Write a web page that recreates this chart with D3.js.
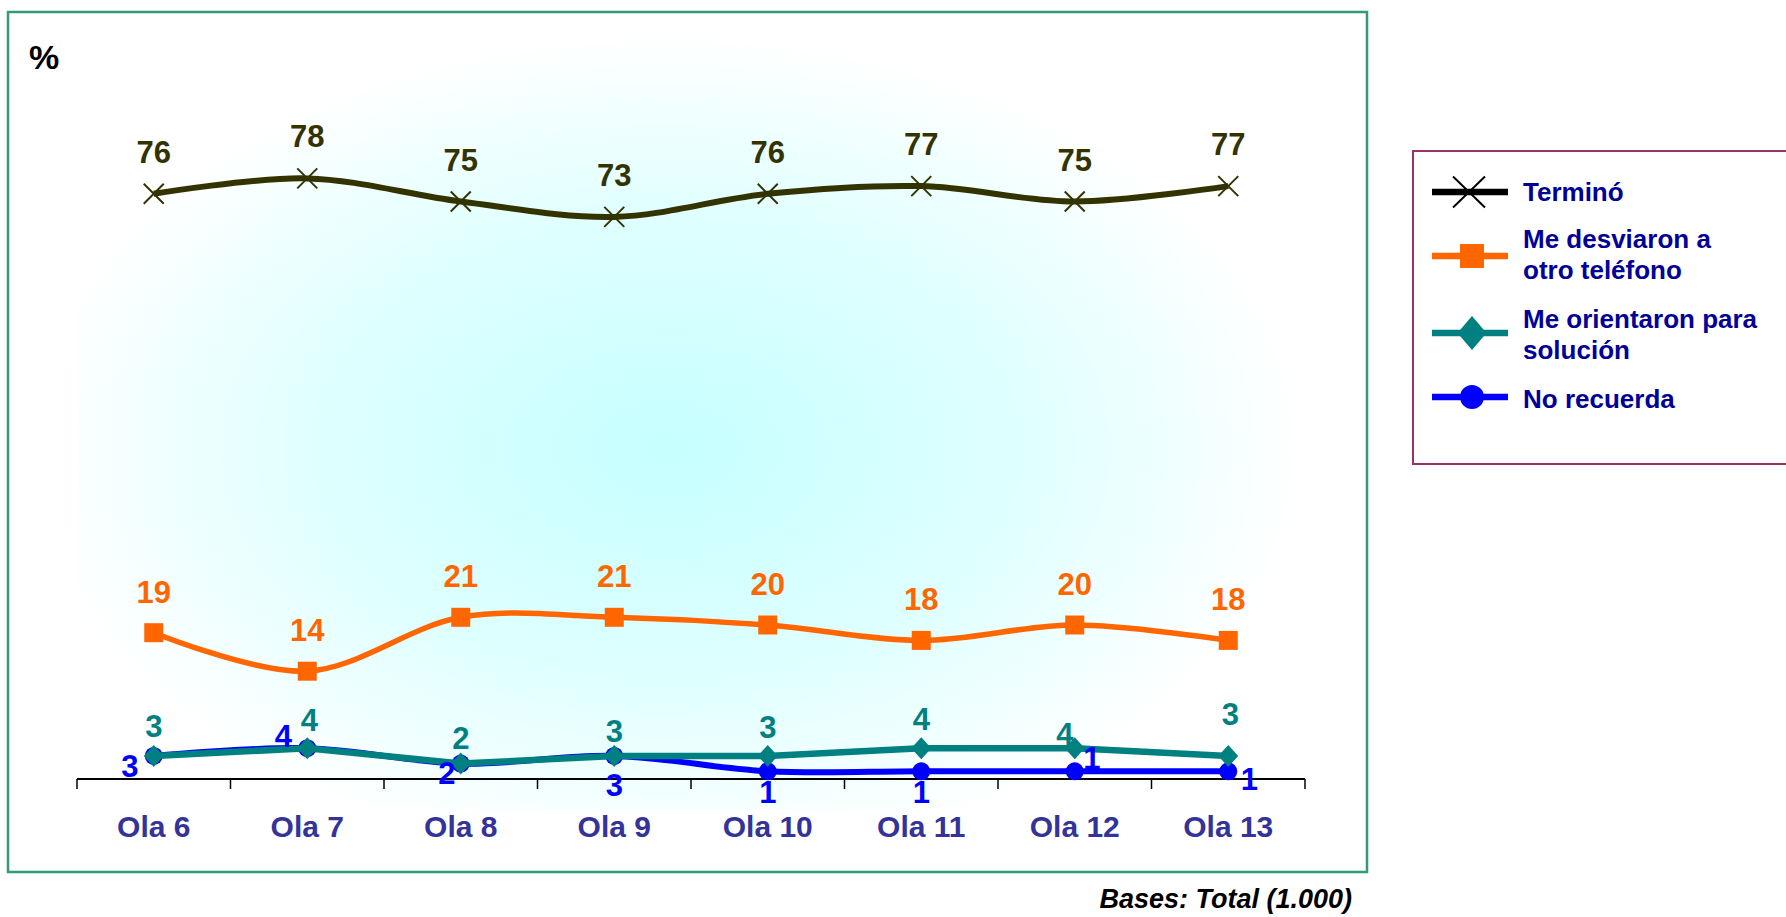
<!DOCTYPE html>
<html>
<head>
<meta charset="utf-8">
<script src="https://cdnjs.cloudflare.com/ajax/libs/d3/7.8.5/d3.min.js"></script>
<style>
    body { margin: 0; background: #fff; }
    text { font-family: "Liberation Sans", Arial, sans-serif; font-weight: bold; }
</style>
</head>
<body>
<div id="chart"></div>
<script>
// Data
let categories = ["Ola 6", "Ola 7", "Ola 8", "Ola 9", "Ola 10", "Ola 11", "Ola 12", "Ola 13"];
let termino = [76, 78, 75, 73, 76, 77, 75, 77];
let desviaron = [19, 14, 21, 21, 20, 18, 20, 18];
let orientaron = [3, 4, 2, 3, 3, 4, 4, 3];
let noRecuerda = [3, 4, 2, 3, 1, 1, 1, 1];
let legendLabels = [["Terminó"], ["Me desviaron a", "otro teléfono"], ["Me orientaron para", "solución"], ["No recuerda"]];

function drawChart() {
    let width = 1786, height = 917;

    let svg = d3.select("#chart")
        .append("svg")
        .attr("width", width)
        .attr("height", height);

    // background gradient
    let defs = svg.append("defs");
    let grad = defs.append("radialGradient")
        .attr("id", "bg")
        .attr("cx", "48%").attr("cy", "55%").attr("r", "52%");
    grad.append("stop").attr("offset", "0%").attr("stop-color", "#c6ffff");
    grad.append("stop").attr("offset", "55%").attr("stop-color", "#dfffff");
    grad.append("stop").attr("offset", "100%").attr("stop-color", "#ffffff");

    svg.append("rect")
        .attr("x", 77).attr("y", 9)
        .attr("width", 1228).attr("height", 800)
        .attr("fill", "url(#bg)");

    // outer frame
    svg.append("rect")
        .attr("x", 8).attr("y", 12)
        .attr("width", 1359).attr("height", 860)
        .attr("fill", "none")
        .attr("stroke", "#339977")
        .attr("stroke-width", 2.5);

    let x = d3.scaleBand()
        .domain(categories)
        .range([77, 1305]);

    let y = d3.scaleLinear()
        .domain([0, 100])
        .range([779, 9]);

    let cx = function (i) { return x(categories[i]) + x.bandwidth() / 2; };

    // x axis line and boundary ticks
    let axis = svg.append("g");
    axis.append("line")
        .attr("x1", x.range()[0]).attr("x2", x.range()[1])
        .attr("y1", y(0)).attr("y2", y(0))
        .attr("stroke", "#000").attr("stroke-width", 2);

    let edges = categories.map(function (c) { return x(c); });
    edges.push(x.range()[1]);
    axis.selectAll(".tick")
        .data(edges)
        .enter()
        .append("line")
        .attr("x1", function (d) { return d; })
        .attr("x2", function (d) { return d; })
        .attr("y1", y(0))
        .attr("y2", y(0) + 10)
        .attr("stroke", "#000")
        .attr("stroke-width", 1.5);

    axis.selectAll(".cat")
        .data(categories)
        .enter()
        .append("text")
        .attr("x", function (d) { return x(d) + x.bandwidth() / 2; })
        .attr("y", 837)
        .attr("text-anchor", "middle")
        .style("font-size", "30px")
        .style("fill", "#333399")
        .text(function (d) { return d; });

    // "%" title
    svg.append("text")
        .attr("x", 29).attr("y", 69)
        .style("font-size", "34px")
        .style("fill", "#000")
        .text("%");

    // Bases note
    svg.append("text")
        .attr("x", 1352).attr("y", 908)
        .attr("text-anchor", "end")
        .style("font-size", "27px")
        .style("font-style", "italic")
        .style("fill", "#000")
        .text("Bases: Total (1.000)");

    let smooth = d3.line()
        .x(function (d, i) { return cx(i); })
        .y(function (d) { return y(d); })
        .curve(d3.curveCatmullRom.alpha(0));

    let straight = d3.line()
        .x(function (d, i) { return cx(i); })
        .y(function (d) { return y(d); });

    // lines
    svg.append("path").datum(termino).attr("d", smooth)
        .attr("fill", "none").attr("stroke", "#333300").attr("stroke-width", 6);
    svg.append("path").datum(desviaron).attr("d", smooth)
        .attr("fill", "none").attr("stroke", "#ff6600").attr("stroke-width", 5.5);
    svg.append("path").datum(noRecuerda).attr("d", smooth)
        .attr("fill", "none").attr("stroke", "#0000ff").attr("stroke-width", 6);

    // blue circles under the teal line
    svg.selectAll(".circ")
        .data(noRecuerda)
        .enter()
        .append("circle")
        .attr("cx", function (d, i) { return cx(i); })
        .attr("cy", function (d) { return y(d); })
        .attr("r", 9)
        .attr("fill", "#0000ff");

    svg.append("path").datum(orientaron).attr("d", straight)
        .attr("fill", "none").attr("stroke", "#008080").attr("stroke-width", 6.5);

    // markers
    svg.selectAll(".cross")
        .data(termino)
        .enter()
        .append("path")
        .attr("transform", function (d, i) { return "translate(" + cx(i) + "," + y(d) + ")"; })
        .attr("d", "M-10,-10L10,10M-10,10L10,-10")
        .attr("stroke", "#333300")
        .attr("stroke-width", 2)
        .attr("fill", "none");

    svg.selectAll(".sq")
        .data(desviaron)
        .enter()
        .append("rect")
        .attr("x", function (d, i) { return cx(i) - 9.5; })
        .attr("y", function (d) { return y(d) - 9.5; })
        .attr("width", 19).attr("height", 19)
        .attr("fill", "#ff6600");

    svg.selectAll(".dia")
        .data(orientaron)
        .enter()
        .append("path")
        .attr("transform", function (d, i) { return "translate(" + cx(i) + "," + y(d) + ")"; })
        .attr("d", "M0,-11L10,0L0,11L-10,0Z")
        .attr("fill", "#008080");

    // data labels, offsets from each point (dx, baseline dy)
    let terminoOffsets = termino.map(function () { return [0, -31]; });
    let desviaronOffsets = desviaron.map(function () { return [0, -30]; });
    let orientaronOffsets = [[0, -19], [2, -17], [0, -15], [0, -14], [0, -18], [0, -18], [-10, -3], [2, -31]];
    let noRecuerdaOffsets = [[-24, 21], [-24, -1], [-14, 20], [0, 40], [0, 32], [0, 32], [17, -2], [21, 19]];

    function labels(values, offsets, color) {
        svg.append("g").selectAll("text")
            .data(values)
            .enter()
            .append("text")
            .attr("x", function (d, i) { return cx(i) + offsets[i][0]; })
            .attr("y", function (d, i) { return y(d) + offsets[i][1]; })
            .attr("text-anchor", "middle")
            .style("font-size", "31px")
            .style("fill", color)
            .text(function (d) { return d; });
    }

    labels(termino, terminoOffsets, "#333300");
    labels(desviaron, desviaronOffsets, "#ff6600");
    labels(orientaron, orientaronOffsets, "#008080");
    labels(noRecuerda, noRecuerdaOffsets, "#0000ff");

    // legend
    let legend = svg.append("g");
    legend.append("rect")
        .attr("x", 1413).attr("y", 151)
        .attr("width", 400).attr("height", 313)
        .attr("fill", "#fff")
        .attr("stroke", "#993366")
        .attr("stroke-width", 2);

    let legendY = [192, 256, 333, 397];
    let legendTextY = [201, 248, 328, 408];
    let legendColors = ["#000000", "#ff6600", "#008080", "#0000ff"];

    legendY.forEach(function (ly, i) {
        legend.append("line")
            .attr("x1", 1432).attr("x2", 1508)
            .attr("y1", ly).attr("y2", ly)
            .attr("stroke", legendColors[i])
            .attr("stroke-width", 6.5);

        legend.append("text")
            .attr("x", 1523)
            .attr("y", legendTextY[i])
            .style("font-size", "26px")
            .style("fill", "#000099")
            .selectAll("tspan")
            .data(legendLabels[i])
            .enter()
            .append("tspan")
            .attr("x", 1523)
            .attr("dy", function (d, j) { return j === 0 ? 0 : 31; })
            .text(function (d) { return d; });
    });

    legend.append("path")
        .attr("transform", "translate(1469," + legendY[0] + ")")
        .attr("d", "M-16,-15.5L16,15.5M-16,15.5L16,-15.5")
        .attr("stroke", "#000").attr("stroke-width", 2).attr("fill", "none");
    legend.append("rect")
        .attr("x", 1460).attr("y", legendY[1] - 12)
        .attr("width", 24).attr("height", 24)
        .attr("fill", "#ff6600");
    legend.append("path")
        .attr("transform", "translate(1472," + legendY[2] + ")")
        .attr("d", "M0,-17L14.5,0L0,17L-14.5,0Z")
        .attr("fill", "#008080");
    legend.append("circle")
        .attr("cx", 1472).attr("cy", legendY[3]).attr("r", 12)
        .attr("fill", "#0000ff");
}

drawChart();
</script>
</body>
</html>
